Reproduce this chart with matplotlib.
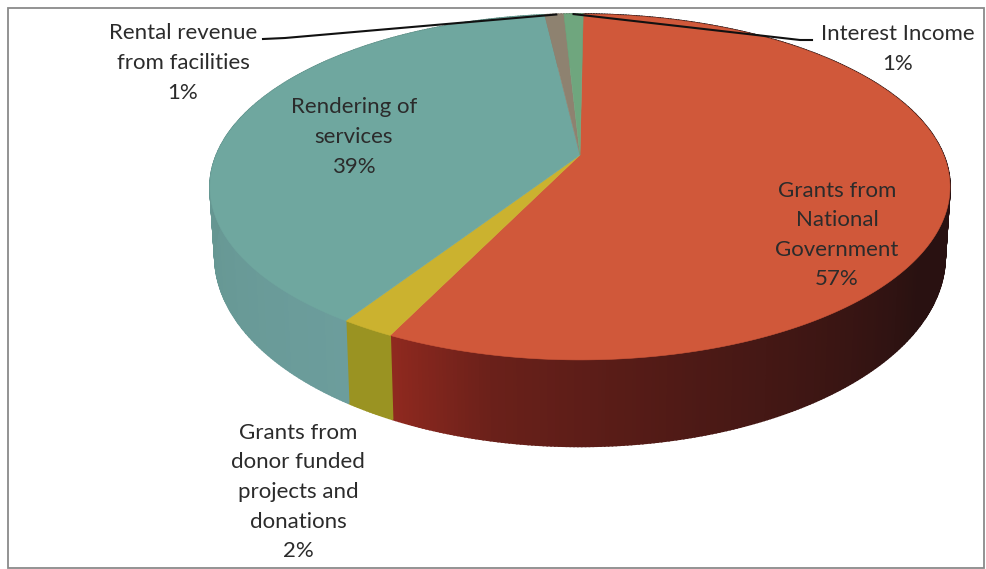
#!/usr/bin/env python3
"""Revenue sources shown as a tilted 3D pie with a perspective rim."""

import matplotlib
matplotlib.use("Agg")
import matplotlib.pyplot as plt
from matplotlib.colors import to_rgb
from matplotlib.patches import Rectangle
import numpy as np

# Slices run clockwise from just past twelve o'clock.
SLICE_NAMES = ["Grants from\nNational\nGovernment",
               "Grants from\ndonor funded\nprojects and\ndonations",
               "Rendering of\nservices",
               "Rental revenue\nfrom facilities",
               "Interest Income"]
SLICE_VALUES = [57, 2, 39, 1, 1]

TOP_COLORS = ["#D0583A", "#CBB22F", "#6FA79F", "#8E8270", "#6FA67E"]
WALL_COLORS = [("#90291F", "#241010"), ("#9A9322", "#9A9322"),
               ("#6C9D9C", "#5A8B80"), ("#6E6456", "#6E6456"),
               ("#568060", "#568060")]

LABEL_POS = [(837, 235), (298, 492), (354, 137), (183, 63), (898, 49)]

# Pie geometry on the 986x569 canvas
CX, APEX_Y = 580, 155
HALF_W, NEAR, TILT = 363.6, 167.0, 0.185
WALL_SCALE_X, WALL_SCALE_Y, WALL_DROP = 0.987, 1.1, 66
FIRST_SLICE_ANGLE = 0.6


def rim(theta):
    """Project a clockwise-from-top angle (radians) onto the top face."""
    u, v = np.sin(theta), np.cos(theta)
    div = 1 + TILT * v
    return CX + HALF_W * u / div, APEX_Y - NEAR * v / div


def lower_rim(theta):
    x, y = rim(theta)
    return CX + WALL_SCALE_X * (x - CX), APEX_Y + WALL_SCALE_Y * (y - APEX_Y) + WALL_DROP


def mix(col_a, col_b, t):
    a, b = np.array(to_rgb(col_a)), np.array(to_rgb(col_b))
    return tuple(a + (b - a) * t)


plt.rcParams["font.family"] = ["Lato", "DejaVu Sans"]
fig = plt.figure(figsize=(9.86, 5.69), dpi=100)
ax = fig.add_axes([0, 0, 1, 1])
ax.set_xlim(0, 986)
ax.set_ylim(569, 0)
ax.axis("off")

ax.add_patch(Rectangle((8, 8), 976, 560, facecolor="white", edgecolor="#8a8a8a", linewidth=1.3))

edges = np.cumsum([0] + SLICE_VALUES) / sum(SLICE_VALUES) * 2 * np.pi + np.radians(FIRST_SLICE_ANGLE)

# Outer wall, built from thin strips so the shading can change along the rim
for i, (start, stop) in enumerate(zip(edges[:-1], edges[1:])):
    n_strips = max(2, int(np.degrees(stop - start) * 2))
    steps = np.linspace(start, stop, n_strips + 1)
    for j in range(n_strips):
        t = (j + 0.5) / n_strips
        if i == 0:
            # the red wall goes dark quickly as it turns away to the right
            t = np.interp(1 - t, [0, 0.07, 0.2, 0.4, 1], [0, 0.35, 0.62, 0.95, 1])
        color = mix(WALL_COLORS[i][0], WALL_COLORS[i][1], t)
        xa, ya = rim(steps[j:j + 2])
        xb, yb = lower_rim(steps[j:j + 2])
        ax.fill([xa[0], xa[1], xb[1], xb[0]], [ya[0], ya[1], yb[1], yb[0]],
                color=color, linewidth=1.2, zorder=2)

# Top face
for i, (start, stop) in enumerate(zip(edges[:-1], edges[1:])):
    steps = np.linspace(start, stop, max(3, int(np.degrees(stop - start)) * 2))
    xs, ys = rim(steps)
    ax.fill(np.r_[CX, xs], np.r_[APEX_Y, ys], color=TOP_COLORS[i], linewidth=0.4, zorder=3)

# Leader lines for the two thin slices
mid_rental = (edges[3] + edges[4]) / 2
mid_interest = (edges[4] + edges[5]) / 2
rx, ry = rim(mid_rental)
ix, iy = rim(mid_interest)
ax.plot([263, 285, rx + 2], [39, 38, ry], color="#111111", linewidth=1.5, zorder=4)
ax.plot([ix, 800, 812], [iy, 40, 40], color="#111111", linewidth=1.5, zorder=4)

for name, value, (x, y) in zip(SLICE_NAMES, SLICE_VALUES, LABEL_POS):
    ax.text(x, y, f"{name}\n{value}%", ha="center", va="center", fontsize=16,
            color="#2b2b2b", linespacing=1.6, zorder=5)

fig.savefig("out.png", dpi=100)
